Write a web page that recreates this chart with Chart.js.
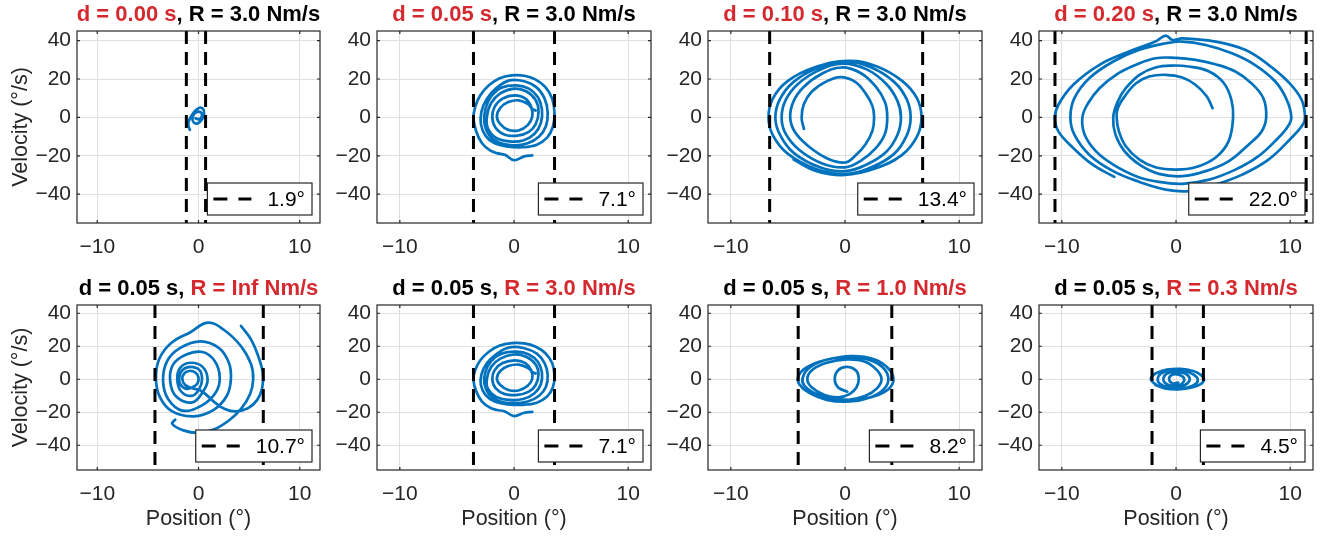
<!DOCTYPE html>
<html><head><meta charset="utf-8">
<script src="https://cdn.jsdelivr.net/npm/chart.js@4.4.1/dist/chart.umd.min.js"></script>
<style>
html,body{margin:0;padding:0;background:#fff;}
#wrap{position:relative;width:1330px;height:537px;overflow:hidden;}
canvas{position:absolute;left:0;top:0;}
</style></head><body><div id="wrap"></div>
<script>
// ---------- data ----------
const xTicks = [-10, 0, 10];
const yTicks = [-40, -20, 0, 20, 40];
const xRange = [-12, 12];
const yRange = [-55, 45];

const delayLabels   = ['d = 0.00 s','d = 0.05 s','d = 0.10 s','d = 0.20 s','d = 0.05 s','d = 0.05 s','d = 0.05 s','d = 0.05 s'];
const dampingLabels = ['R = 3.0 Nm/s','R = 3.0 Nm/s','R = 3.0 Nm/s','R = 3.0 Nm/s','R = Inf Nm/s','R = 3.0 Nm/s','R = 1.0 Nm/s','R = 0.3 Nm/s'];
const rangeLabels   = ['1.9°','7.1°','13.4°','22.0°','10.7°','7.1°','8.2°','4.5°'];

const boundsD000 = [-1.2, 0.7];
const boundsD005 = [-3.55, 3.55];
const boundsD010 = [-6.6, 6.8];
const boundsD020 = [-10.6, 11.4];
const boundsRInf = [-4.3, 6.4];
const boundsR10  = [-4.1, 4.1];
const boundsR03  = [-2.1, 2.4];

const trajD000 = [[-0.85,-6.5],[-1.0,-4.2],[-0.95,-1.8],[-0.65,1.2],[-0.3,3.6],[0.1,5.0],[0.45,4.4],[0.55,2.0],[0.35,-1.0],[-0.05,-3.0],[-0.45,-2.8],[-0.6,-0.5],[-0.4,2.0],[0.0,3.0],[0.3,2.2],[0.3,0.2],[0.0,-1.0],[-0.3,-0.4]];

const trajD005 = [[1.6,-19.8],[0.9,-20.3],[0.0,-22.3],[-0.8,-19.5],[-1.5,-18.6],[-2.1,-17.2],[-2.8,-13.5],[-3.3,-7.5],[-3.55,-0.5],[-3.4,5.5],[-2.95,11.5],[-2.2,16.7],[-1.3,20.3],[-0.2,21.9],[0.9,21.7],[1.9,19.7],[2.75,15.8],[3.35,9.7],[3.55,1.9],[3.4,-5],[2.9,-10.5],[2.0,-14.2],[0.8,-15.5],[-0.5,-15.2],[-1.7,-13.5],[-2.5,-9.5],[-2.9,-3.5],[-2.85,3],[-2.4,9.5],[-1.6,15],[-0.4,19.3],[0.9,18.8],[2.0,15.5],[2.7,9.5],[2.95,2.5],[2.8,-4.5],[2.2,-10],[1.2,-13.5],[-0.1,-14.5],[-1.4,-13],[-2.2,-9],[-2.6,-2.5],[-2.5,4.5],[-2.0,11],[-1.1,15.5],[0.2,16.7],[1.3,15],[2.1,10.5],[2.45,4],[2.35,-3],[1.8,-8.5],[0.8,-12],[-0.4,-12.5],[-1.6,-10.5],[-2.3,-5.5],[-2.37,0.5],[-2.0,7.5],[-1.2,12.5],[0,15],[1.1,13.5],[1.9,9],[2.15,3],[1.9,-3.5],[1.3,-7.5],[0.3,-9.5],[-0.8,-9],[-1.6,-5.5],[-1.9,0],[-1.7,5.5],[-1.0,9.8],[0.1,11.5],[1.0,9.8],[1.5,5.5],[1.6,0.5],[1.2,-4],[0.4,-6.8],[-0.5,-6.5],[-1.2,-3.5],[-1.5,0.5],[-1.2,5],[-0.5,8],[0.4,8.9],[1.2,7],[1.6,4.5],[1.9,3.5]];

const trajD010 = [[-3.6,-6],[-3.8,0],[-3.6,7],[-2.9,13.5],[-1.7,18.5],[-0.4,21],[0.9,18.5],[1.8,12.5],[2.4,6],[2.55,0],[2.4,-7],[1.8,-14],[0.9,-20],[0,-23.5],[-1.5,-21.5],[-3.2,-15],[-4.4,-7.5],[-4.8,0],[-4.5,8.5],[-3.6,16],[-2.1,22.5],[-0.3,26],[1.4,23],[2.7,16],[3.5,8],[3.7,0],[3.5,-8.5],[2.7,-16],[1.4,-22.5],[0,-26],[-2,-24],[-4,-17],[-5.2,-8.5],[-5.55,0],[-5.2,9],[-4.1,17.5],[-2.3,24.5],[-0.2,28],[1.9,25],[3.6,17.5],[4.6,8.5],[4.9,0],[4.6,-9],[3.6,-18],[1.9,-24.5],[0,-28],[-2.2,-26],[-4.5,-18.5],[-5.7,-9],[-6.1,0],[-5.7,9.5],[-4.5,18.5],[-2.5,25.5],[0,29],[2.3,26],[4.3,18.5],[5.4,9.5],[5.75,0],[5.4,-9.5],[4.3,-19],[2.3,-26],[0,-29.5],[-2.5,-27],[-5,-19],[-6.3,-9.5],[-6.7,0],[-6.3,10],[-5,19],[-2.7,26],[0.3,29.5],[2.8,26.5],[5,19],[6.3,10],[6.7,0],[6.3,-10],[5,-19.5],[2.7,-26.5],[0,-30],[-2.5,-28],[-4.5,-22]];

const trajD020 = [[3.2,4.8],[2.7,10.9],[1.7,17],[0.55,20.8],[-0.9,22.2],[-2.35,21.3],[-3.5,17.8],[-4.5,10.9],[-5.1,4.8],[-5.2,0],[-5.0,-7.3],[-4.4,-15],[-3.2,-22],[-1.8,-26],[0,-27.2],[1.7,-26],[3.45,-21],[4.6,-12.5],[5.0,0],[4.85,9.2],[4.2,17.8],[2.9,23.9],[1.1,26.5],[-0.3,27],[-1.8,26],[-3.2,22.2],[-4.4,15.2],[-5.1,8.3],[-5.5,0],[-5.3,-9],[-4.5,-17.7],[-3.2,-24.6],[-1.5,-29.4],[0.55,-30.6],[2.6,-28],[4.6,-22.9],[6.35,-14.2],[7.5,-7.3],[7.9,0],[7.65,10],[6.6,17.8],[5.2,23.9],[3.45,27.7],[1.7,30],[0,31],[-1.8,30.8],[-3.5,27.4],[-5.25,22.2],[-6.7,15.2],[-7.7,7.4],[-8.2,0],[-8,-9],[-7,-17.7],[-5.5,-24.6],[-3.5,-30.6],[-1.5,-33.6],[0.55,-34.6],[2.9,-32.4],[5.2,-27.2],[7.2,-20.3],[8.95,-10.7],[9.8,-4.7],[10.1,0],[9.7,9.2],[8.7,18.7],[6.9,27.4],[4.9,33.4],[2.6,37.7],[0.55,39.5],[-0.9,38.6],[-3.2,35.2],[-5.5,29.1],[-7.6,20.4],[-8.9,10],[-9.25,0],[-8.9,-9],[-7.6,-19.4],[-5.5,-28],[-3.2,-33.6],[-0.9,-37.6],[1.1,-38.4],[3.45,-35],[5.8,-29.8],[8.1,-22],[10.1,-10.7],[11.1,-3.8],[11.3,0],[11,9.2],[9.8,18.7],[8.1,27.4],[6.05,35.2],[3.45,39.5],[0.55,41.2],[-0.3,40.3],[-0.9,42.6],[-1.8,39.5],[-4.1,34.3],[-6.7,27.4],[-9,17],[-10.3,6.6],[-10.6,0],[-10.3,-7.3],[-9,-15.9],[-7.3,-24.6],[-5.4,-31]];

const trajRInf = [[4.2,32.3],[5.2,24],[5.9,14],[6.35,4],[6.3,-5],[5.8,-12.5],[4.9,-17.5],[3.7,-19.5],[2.6,-18],[1.6,-14],[0.7,-9],[0.1,-6.5],[-0.6,-5.5],[-1.3,-3.5],[-1.6,0],[-1.4,3.5],[-0.9,5],[-0.3,4],[0,1],[-0.1,-2.5],[-0.5,-4.5],[-1.2,-5.8],[-1.8,-3],[-1.9,1],[-1.6,5.5],[-0.8,7.5],[0.1,5.5],[0.35,0],[0.1,-5.5],[-0.6,-10],[-1.7,-7.5],[-2.1,0],[-1.8,7],[-0.8,10],[0.4,7.5],[0.9,0],[0.5,-7],[-0.6,-14],[-2.2,-10.5],[-2.8,-1],[-2.5,9],[-1.2,15],[0.4,16.5],[1.6,11],[2.1,1],[1.7,-8],[0.3,-16],[-1.6,-19],[-3.0,-12],[-3.5,-1],[-3.1,11],[-1.8,19],[0.2,23],[2.0,19],[3.0,10],[3.2,0],[2.8,-10],[1.5,-18.5],[-0.5,-22.5],[-2.6,-19.5],[-3.8,-11],[-4.2,0],[-3.9,12],[-2.7,22],[-0.8,28.5],[0.9,34.3],[2.5,30],[4.2,20],[5.2,9],[5.4,0],[5.1,-9],[4.2,-18],[3.0,-25],[1.5,-30.5],[0,-32.5],[-1.5,-31],[-2.6,-27],[-2.3,-24.5]];

const trajR10 = [[0.2,-7.5],[-0.6,-5],[-0.9,0],[-0.6,5.5],[0.2,7.5],[1.0,5],[1.2,0],[1.0,-5],[0.4,-9],[-0.6,-11],[-1.8,-9.5],[-2.9,-5],[-3.3,0],[-2.9,5.5],[-1.6,10],[0.2,12],[1.8,10.5],[2.8,5.5],[3.2,0],[2.8,-5.5],[1.8,-10],[0.3,-12.5],[-1.4,-11.8],[-2.8,-8],[-3.6,-3.5],[-3.7,1],[-3.2,6.5],[-1.8,11.5],[0.3,13.5],[2.2,11.5],[3.4,6.5],[3.8,0],[3.4,-6],[2.2,-11],[0.4,-13.5],[-1.6,-12.5],[-3.2,-8],[-4.0,-3],[-4.1,1.5],[-3.4,7],[-1.8,11.5],[0.6,14],[2.6,12],[3.8,6.5],[4.25,0],[3.8,-6],[2.5,-10.5],[0.8,-12.5],[-0.5,-12]];

const trajR03 = [[0.2,-2],[-0.3,-2.5],[-0.6,0],[-0.4,2.5],[0.1,3],[0.6,1.5],[0.7,-1],[0.3,-3.5],[-0.5,-3.8],[-1.0,-2],[-1.1,0.5],[-0.8,3.5],[0,4.5],[0.8,3.5],[1.2,0.5],[1.0,-2.5],[0.3,-4.8],[-0.7,-4.8],[-1.4,-2.8],[-1.6,0],[-1.3,3.5],[-0.4,5.5],[0.7,5],[1.5,3],[1.9,0],[1.7,-3],[0.9,-5.2],[-0.3,-6],[-1.4,-4.5],[-2.0,-2],[-2.2,0.5],[-1.8,3.5],[-0.8,5.8],[0.4,6.3],[1.5,5],[2.2,2.5],[2.45,0],[2.2,-2.8],[1.4,-5],[0.2,-6.1],[-1.0,-5.5],[-1.8,-3.5]];

const panelTraj   = [trajD000, trajD005, trajD010, trajD020, trajRInf, trajD005, trajR10, trajR03];
const panelBounds = [boundsD000, boundsD005, boundsD010, boundsD020, boundsRInf, boundsD005, boundsR10, boundsR03];
const highlightPart = ['d','d','d','d','R','R','R','R'];

// ---------- layout ----------
const W = 1330, H = 537;
const cols = [[77,320],[377,651],[708,982],[1039,1313]];
const rows = [[31,223],[305,470]];
const FONT = '"Liberation Sans", Arial, Helvetica, sans-serif';
const RED = '#d42a2f';
const AX = '#262626';
const yW = 60, xH = 40;
const fmtTick = v => (v < 0 ? '\u2212' + Math.abs(v) : String(v));

const wrap = document.getElementById('wrap');

for (let i = 0; i < 8; i++) {
  const r = Math.floor(i / 4), c = i % 4;
  const [pl, pr] = cols[c], [pt, pb] = rows[r];
  const cv = document.createElement('canvas');
  cv.width = W; cv.height = H;
  wrap.appendChild(cv);
  const b = panelBounds[i];
  const traj = panelTraj[i];

  const deco = {
    id: 'deco' + i,
    afterDraw(chart) {
      const ctx = chart.ctx, a = chart.chartArea;
      const xs = chart.scales.x, ys = chart.scales.y;
      ctx.save();
      // frame
      ctx.strokeStyle = AX; ctx.lineWidth = 1.2; ctx.setLineDash([]);
      ctx.strokeRect(a.left, a.top, a.right - a.left, a.bottom - a.top);
      // inward ticks
      ctx.beginPath();
      xTicks.forEach(v => {
        const px = xs.getPixelForValue(v);
        ctx.moveTo(px, a.bottom); ctx.lineTo(px, a.bottom - 3);
        ctx.moveTo(px, a.top); ctx.lineTo(px, a.top + 3);
      });
      yTicks.forEach(v => {
        const py = ys.getPixelForValue(v);
        ctx.moveTo(a.left, py); ctx.lineTo(a.left + 3, py);
        ctx.moveTo(a.right, py); ctx.lineTo(a.right - 3, py);
      });
      ctx.stroke();
      // title (two colours)
      ctx.font = 'bold 22px ' + FONT;
      ctx.textBaseline = 'middle'; ctx.textAlign = 'left';
      let p1, p2, c1, c2;
      if (highlightPart[i] === 'd') { p1 = delayLabels[i]; p2 = ', ' + dampingLabels[i]; c1 = RED; c2 = '#000'; }
      else { p1 = delayLabels[i] + ', '; p2 = dampingLabels[i]; c1 = '#000'; c2 = RED; }
      const w1 = ctx.measureText(p1).width, w2 = ctx.measureText(p2).width;
      let tx = (a.left + a.right) / 2 - (w1 + w2) / 2;
      const ty = a.top - 16;
      ctx.fillStyle = c1; ctx.fillText(p1, tx, ty);
      ctx.fillStyle = c2; ctx.fillText(p2, tx + w1, ty);
      // axis titles
      ctx.fillStyle = AX; ctx.font = '21.5px ' + FONT; ctx.textAlign = 'center';
      if (c === 0) {
        ctx.save(); ctx.translate(21, (a.top + a.bottom) / 2); ctx.rotate(-Math.PI / 2);
        ctx.fillText('Velocity (°/s)', 0, 0); ctx.restore();
      }
      if (r === 1) ctx.fillText('Position (°)', (a.left + a.right) / 2, 519);
      // legend
      ctx.font = '21px ' + FONT;
      const lab = rangeLabels[i];
      const tw = ctx.measureText(lab).width;
      const bw = 6 + 38 + 16 + tw + 7, bh = 32;
      const bx = a.right - 8 - bw, by = a.bottom - 8 - bh;
      ctx.fillStyle = '#fff'; ctx.fillRect(bx, by, bw, bh);
      ctx.strokeStyle = AX; ctx.lineWidth = 1.2; ctx.strokeRect(bx, by, bw, bh);
      ctx.strokeStyle = '#000'; ctx.lineWidth = 3; ctx.setLineDash([14, 11]);
      ctx.beginPath(); ctx.moveTo(bx + 6, by + bh / 2); ctx.lineTo(bx + 44, by + bh / 2); ctx.stroke();
      ctx.setLineDash([]);
      ctx.fillStyle = '#000'; ctx.textAlign = 'right'; ctx.textBaseline = 'middle';
      ctx.fillText(lab, bx + bw - 7, by + bh / 2 + 1);
      ctx.restore();
    }
  };

  new Chart(cv, {
    type: 'scatter',
    data: {
      datasets: [
        { data: [{x: b[0], y: yRange[1]}, {x: b[0], y: yRange[0]}], showLine: true, borderColor: '#000', borderWidth: 3, borderDash: [13, 8], pointRadius: 0, tension: 0 },
        { data: [{x: b[1], y: yRange[1]}, {x: b[1], y: yRange[0]}], showLine: true, borderColor: '#000', borderWidth: 3, borderDash: [13, 8], pointRadius: 0, tension: 0 },
        { data: traj.map(p => ({x: p[0], y: p[1]})), showLine: true, borderColor: '#0072BD', borderWidth: 2.7, pointRadius: 0, tension: 0.4, borderJoinStyle: 'round', borderCapStyle: 'round' }
      ]
    },
    options: {
      responsive: false, animation: false, devicePixelRatio: 1,
      events: [],
      layout: { padding: { left: pl - yW, top: pt, right: W - pr, bottom: H - pb - xH } },
      plugins: { legend: { display: false }, tooltip: { enabled: false }, title: { display: false } },
      scales: {
        x: {
          type: 'linear', min: xRange[0], max: xRange[1],
          afterBuildTicks: s => { s.ticks = xTicks.map(v => ({value: v})); },
          afterFit: s => { s.height = xH; },
          grid: { color: '#dfdfdf', lineWidth: 1, drawTicks: false },
          border: { display: false },
          ticks: { font: { family: FONT, size: 21 }, color: AX, padding: 12, maxRotation: 0, autoSkip: false, callback: v => fmtTick(v) }
        },
        y: {
          type: 'linear', min: yRange[0], max: yRange[1],
          afterBuildTicks: s => { s.ticks = yTicks.map(v => ({value: v})); },
          afterFit: s => { s.width = yW; },
          grid: { color: '#dfdfdf', lineWidth: 1, drawTicks: false },
          border: { display: false },
          ticks: { font: { family: FONT, size: 21 }, color: AX, padding: 6, autoSkip: false, callback: v => fmtTick(v) }
        }
      }
    },
    plugins: [deco]
  });
}
</script></body></html>
